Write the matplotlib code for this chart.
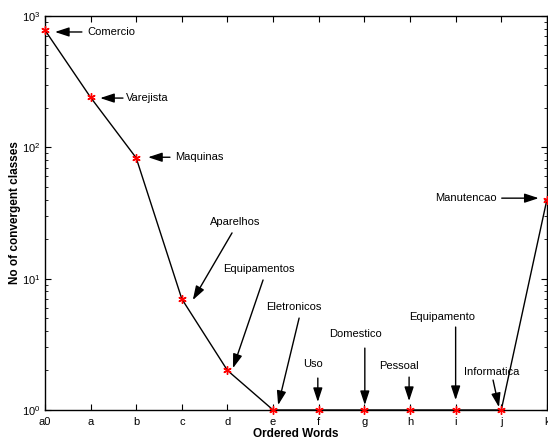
import matplotlib
matplotlib.use("Agg")
import matplotlib.pyplot as plt

plt.rcParams["font.family"] = ["Liberation Sans", "DejaVu Sans"]
plt.rcParams["mathtext.fontset"] = "custom"
plt.rcParams["mathtext.rm"] = "Liberation Sans"
plt.rcParams["mathtext.it"] = "Liberation Sans:italic"

# ordered words and number of convergent classes
words = ["a0", "a", "b", "c", "d", "e", "f", "g", "h", "i", "j", "k"]
classes = [780, 240, 83, 7, 2, 1, 1, 1, 1, 1, 1, 40]

# annotation: label, text (x, y), arrow tail (x, y), arrow head (x, y), text alignment
notes = [
    ("Comercio",     (0.94, 755),   (0.81, 755),  (0.22, 755),  "left"),
    ("Varejista",    (1.78, 237),   (1.71, 237),  (1.21, 237),  "left"),
    ("Maquinas",     (2.85, 84),    (2.74, 84),   (2.26, 84),   "left"),
    ("Aparelhos",    (4.16, 27),    (4.10, 22.3), (3.24, 6.87), "center"),
    ("Equipamentos", (4.69, 11.8),  (4.78, 9.77), (4.12, 2.08), "center"),
    ("Eletronicos",  (5.46, 6.08),  (5.57, 5.01), (5.11, 1.09), "center"),
    ("Uso",          (5.87, 2.24),  (5.98, 1.75), (5.98, 1.15), "center"),
    ("Domestico",    (6.81, 3.79),  (7.01, 2.96), (7.01, 1.09), "center"),
    ("Pessoal",      (7.76, 2.16),  (7.98, 1.78), (7.98, 1.17), "center"),
    ("Equipamento",  (8.70, 5.1),   (9.00, 4.28), (9.00, 1.19), "center"),
    ("Informatica",  (9.79, 1.94),  (9.82, 1.69), (9.95, 1.05), "center"),
    ("Manutencao",   (9.90, 41),    (10.01, 41),  (10.82, 41),  "right"),
]

fig = plt.figure(figsize=(5.48, 4.43), dpi=100)
ax = fig.add_axes([0.082, 0.0745, 0.916, 0.8895])

x = list(range(len(words)))
ax.plot(x, classes, color="black", lw=1.0, zorder=2)
ax.plot(x, classes, linestyle="none", marker=(6, 2, 0), markersize=6,
        markeredgecolor="red", markeredgewidth=1.0, zorder=3, clip_on=False)

ax.set_yscale("log")
ax.set_ylim(1, 1000)
ax.set_xlim(0, len(words) - 1)
ax.set_xticks(x)
ax.set_xticklabels(words)
ax.tick_params(which="both", direction="in", top=True, right=True,
               labelsize=8, pad=3)
ax.tick_params(axis="x", pad=5)
ax.tick_params(which="major", length=4)
ax.tick_params(which="minor", length=2.5)
for s in ax.spines.values():
    s.set_linewidth(1.0)

ax.set_xlabel("Ordered Words", fontsize=8.5, fontweight="bold", labelpad=1)
ax.set_ylabel("No of convergent classes", fontsize=8.5, fontweight="bold", labelpad=1)

for label, txt, tail, head, ha in notes:
    ax.text(txt[0], txt[1], label, ha=ha, va="center", fontsize=8)
    ax.annotate("", xy=head, xytext=tail,
                arrowprops=dict(arrowstyle="-|>,head_length=0.85,head_width=0.28",
                                color="black", lw=1.0, shrinkA=0, shrinkB=0))

fig.savefig("out.png", dpi=100)
